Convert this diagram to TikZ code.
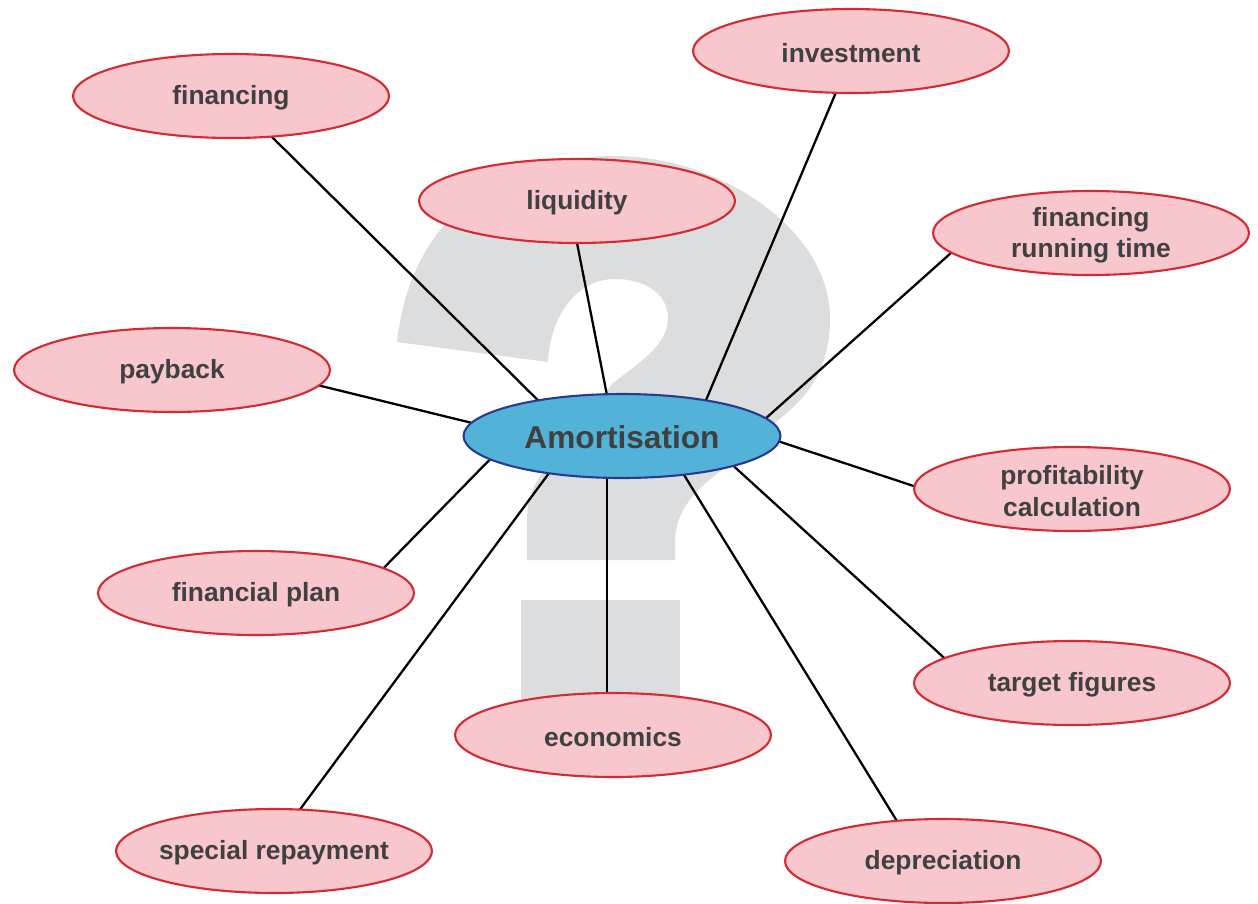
\documentclass[tikz,border=0pt]{standalone}
\usepackage{fontspec}
\setmainfont{Liberation Sans}
\usetikzlibrary{shapes.geometric,backgrounds}
\definecolor{qgray}{HTML}{DCDDDF}
\definecolor{pinkfill}{HTML}{F8C6CD}
\definecolor{redline}{HTML}{D42A33}
\definecolor{bluefill}{HTML}{52B2D8}
\definecolor{blueline}{HTML}{2B3A8F}
\definecolor{txt}{HTML}{404041}
\begin{document}
\begin{tikzpicture}[x=0.02cm,y=-0.02cm,
  topic/.style={ellipse, draw=redline, fill=pinkfill, line width=1.2pt,
    minimum width=6.32cm, minimum height=1.68cm, inner sep=0pt, outer sep=0pt},
  hub/.style={ellipse, draw=blueline, fill=bluefill, line width=1.2pt,
    minimum width=6.34cm, minimum height=1.68cm, inner sep=0pt, outer sep=0pt},
  lbl/.style={font=\bfseries\fontsize{15}{18}\selectfont, text=txt, align=center, inner sep=0pt, yshift=-1.2pt},
  hublbl/.style={font=\bfseries\fontsize{18}{22}\selectfont, text=txt, inner sep=0pt, yshift=-0.6pt},
  link/.style={line width=1.3pt, draw=black}]
\useasboundingbox (0,0) rectangle (1258,903);

\node[hub, label={[hublbl]center:Amortisation}] (amo) at (622,436) {};
\node[topic, label={[lbl]center:financing}] (fin) at (231,96) {};
\node[topic, label={[lbl]center:investment}] (inv) at (851,51) {};
\node[topic, label={[lbl]center:liquidity}] (liq) at (577,201) {};
\node[topic, label={[lbl]center:financing\\running time}] (frt) at (1091,233) {};
\node[topic, label={[lbl]center:payback}] (pay) at (172,370) {};
\node[topic, label={[lbl]center:profitability\\calculation}] (pro) at (1072,489) {};
\node[topic, label={[lbl]center:financial plan}] (fpl) at (256,593) {};
\node[topic, label={[lbl]center:target figures}] (tar) at (1072,683) {};
\node[topic, label={[lbl]center:economics}] (eco) at (613,735) {};
\node[topic, label={[lbl]center:special repayment}] (spr) at (274,851) {};
\node[topic, label={[lbl]center:depreciation}] (dep) at (943,861) {};

\begin{pgfonlayer}{background}
  % large question mark
  \fill[qgray] (397,342) -- (548,362)
    .. controls (550,318) and (575,279) .. (615,279)
    .. controls (648,279) and (668,296) .. (668,318)
    .. controls (668,345) and (640,362) .. (613,383)
    -- (552,462)
    .. controls (535,480) and (527,495) .. (527,520)
    -- (527,560) -- (675,560) -- (675,540)
    .. controls (676,510) and (695,490) .. (722,470)
    -- (790,410)
    .. controls (815,388) and (830,360) .. (830,318)
    .. controls (830,230) and (720,156) .. (615,156)
    .. controls (490,156) and (410,225) .. (397,342) -- cycle;
  \fill[qgray] (521,600) rectangle (680,740);
  % connectors
  \draw[link] (fin.-45.6) -- (amo.157.4);
  \draw[link] (liq.-90) -- (amo.110);
  \draw[link] (inv.-110) -- (amo.23);
  \draw[link] (frt.188) -- (amo.7.5);
  \draw[link] (pay.-6.6) -- (amo.175.2);
  \draw[link] (amo.-2.9) -- (pro.179);
  \draw[link] (fpl.11) -- (amo.190);
  \draw[link] (spr.58) -- (amo.207.8);
  \draw[link] (amo.-110) -- (amo.-110 |- eco.north);
  \draw[link] (amo.-32.2) -- (dep.139);
  \draw[link] (amo.-15) -- (tar.169);
\end{pgfonlayer}
\end{tikzpicture}
\end{document}
